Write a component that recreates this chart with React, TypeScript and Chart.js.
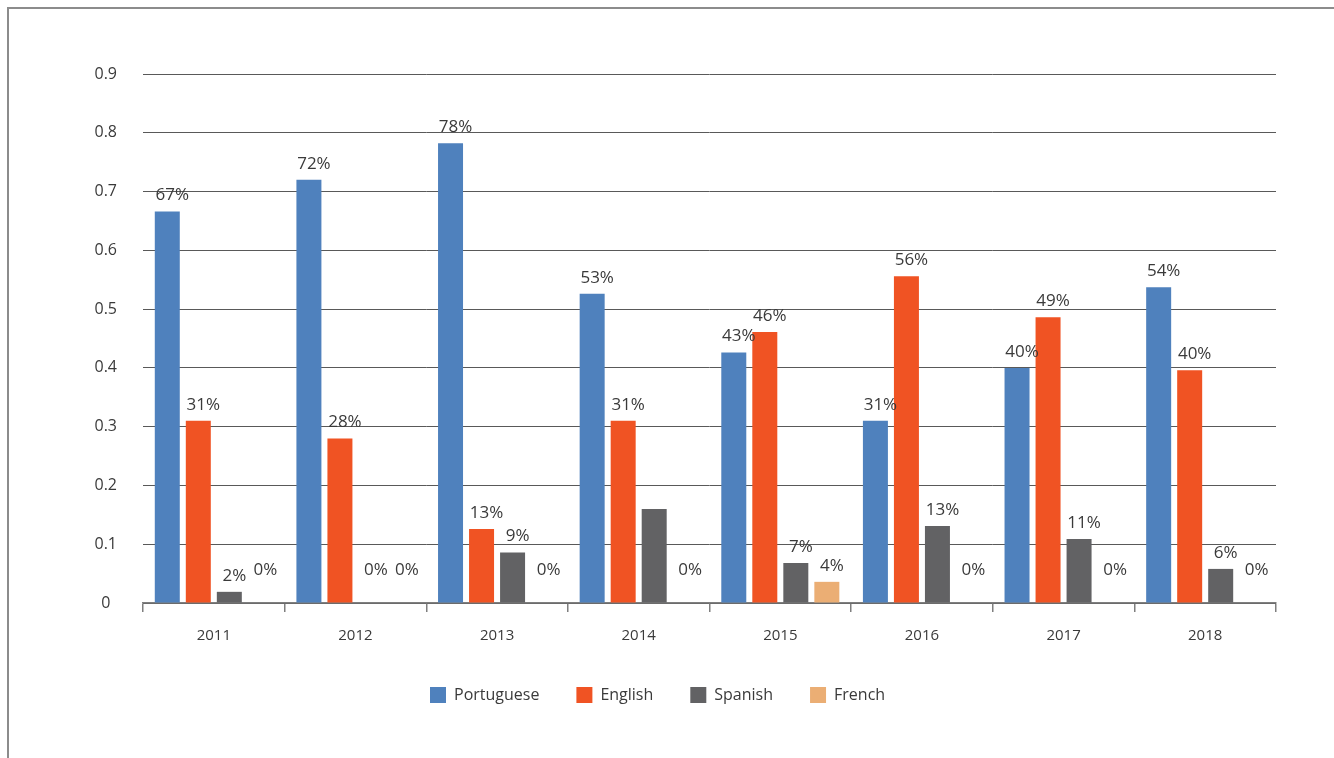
import React, { useEffect, useRef } from "react";
import { Chart, registerables } from "chart.js";

Chart.register(...registerables);

const years = ["2011", "2012", "2013", "2014", "2015", "2016", "2017", "2018"];
const seriesNames = ["Portuguese", "English", "Spanish", "French"];
const portuguese = [0.666, 0.72, 0.782, 0.526, 0.426, 0.31, 0.4, 0.537];
const english = [0.31, 0.28, 0.126, 0.31, 0.461, 0.556, 0.486, 0.396];
const spanish = [0.019, 0, 0.086, 0.16, 0.068, 0.131, 0.109, 0.058];
const french = [0, 0, 0, 0, 0.036, 0, 0, 0];
const yMax = 0.9;
const yStep = 0.1;
// labels that are not shown in the reference: [series, year]
const unlabelled: [string, string][] = [["Spanish", "2014"]];

const colors = ["#4f81bd", "#f05323", "#626264", "#ebae74"];
const textColor = "#3a3a3a";
const FONT = "'Open Sans', 'Noto Sans', sans-serif";

const dataLabelPlugin = {
  id: "dataLabels",
  afterDatasetsDraw(chart: any) {
    const ctx = chart.ctx;
    ctx.save();
    ctx.font = `17px ${FONT}`;
    ctx.fillStyle = textColor;
    ctx.textAlign = "center";
    ctx.textBaseline = "middle";
    chart.data.datasets.forEach((ds: any, di: number) => {
      const meta = chart.getDatasetMeta(di);
      meta.data.forEach((el: any, i: number) => {
        const v = ds.data[i] as number;
        const skip = unlabelled.some(([s, y]) => s === ds.label && y === chart.data.labels[i]);
        if (skip) return;
        const txt = Math.round(v * 100) + "%";
        const dy = v === 0 ? 33 : 16;
        ctx.fillText(txt, el.x + 5, el.y - dy);
      });
    });
    ctx.restore();
  },
};

const legendShiftPlugin = {
  id: "legendShift",
  afterLayout(chart: any) {
    const l = chart.legend;
    if (!l || !l.lineWidths) return;
    const pad = l.options.labels.padding;
    const start = (l.left + pad + l.right - l.lineWidths[0]) / 2;
    const delta = 421 - start;
    l.left += delta;
    l.right += delta;
  },
};

export default function App() {
  const ref = useRef<HTMLCanvasElement | null>(null);
  useEffect(() => {
    if (!ref.current) return;
    const seriesData = [portuguese, english, spanish, french];
    const chart = new Chart(ref.current, {
      type: "bar",
      data: {
        labels: years,
        datasets: seriesNames.map((name, i) => ({
          label: name,
          data: seriesData[i],
          backgroundColor: colors[i],
          borderWidth: 0,
          categoryPercentage: 0.876,
          barPercentage: 0.806,
        })),
      },
      plugins: [dataLabelPlugin, legendShiftPlugin],
      options: {
        animation: false,
        responsive: true,
        maintainAspectRatio: false,
        layout: { padding: { left: 0, right: 58, top: 65, bottom: 45 } },
        plugins: {
          tooltip: { enabled: false },
          title: { display: false },
          legend: {
            position: "bottom",
            labels: {
              boxWidth: 16,
              boxHeight: 16,
              padding: 37,
              color: textColor,
              font: { family: FONT, size: 16 },
            },
          },
        },
        scales: {
          x: {
            offset: true,
            grid: {
              offset: true,
              drawOnChartArea: false,
              drawTicks: true,
              tickLength: 9,
              color: "#7f7f7f",
              lineWidth: 1.5,
            },
            border: { display: true, color: "#7f7f7f", width: 1.5 },
            ticks: {
              color: textColor,
              padding: 15,
              font: { family: FONT, size: 15 },
            },
            afterFit: (s: any) => {
              s.height = 47;
            },
          },
          y: {
            min: 0,
            max: yMax,
            ticks: {
              stepSize: yStep,
              crossAlign: "center",
              padding: 26,
              color: textColor,
              font: { family: FONT, size: 16 },
              callback: (v: any) => (Number(v) === 0 ? "0" : Number(v).toFixed(1)),
            },
            grid: { color: "#595959", lineWidth: 1, drawTicks: false },
            border: { display: false },
            afterFit: (s: any) => {
              s.width = 134;
            },
          },
        },
      },
    });
    return () => chart.destroy();
  }, []);

  return (
    <div
      style={{
        position: "absolute",
        left: 7,
        top: 7,
        right: 0,
        bottom: 0,
        borderLeft: "2px solid #8c8c8c",
        borderTop: "2px solid #8c8c8c",
        overflow: "hidden",
        background: "#fff",
      }}
    >
      <div style={{ position: "absolute", left: 0, top: 0, width: 1325, height: 749 }}>
        <canvas ref={ref} />
      </div>
    </div>
  );
}
